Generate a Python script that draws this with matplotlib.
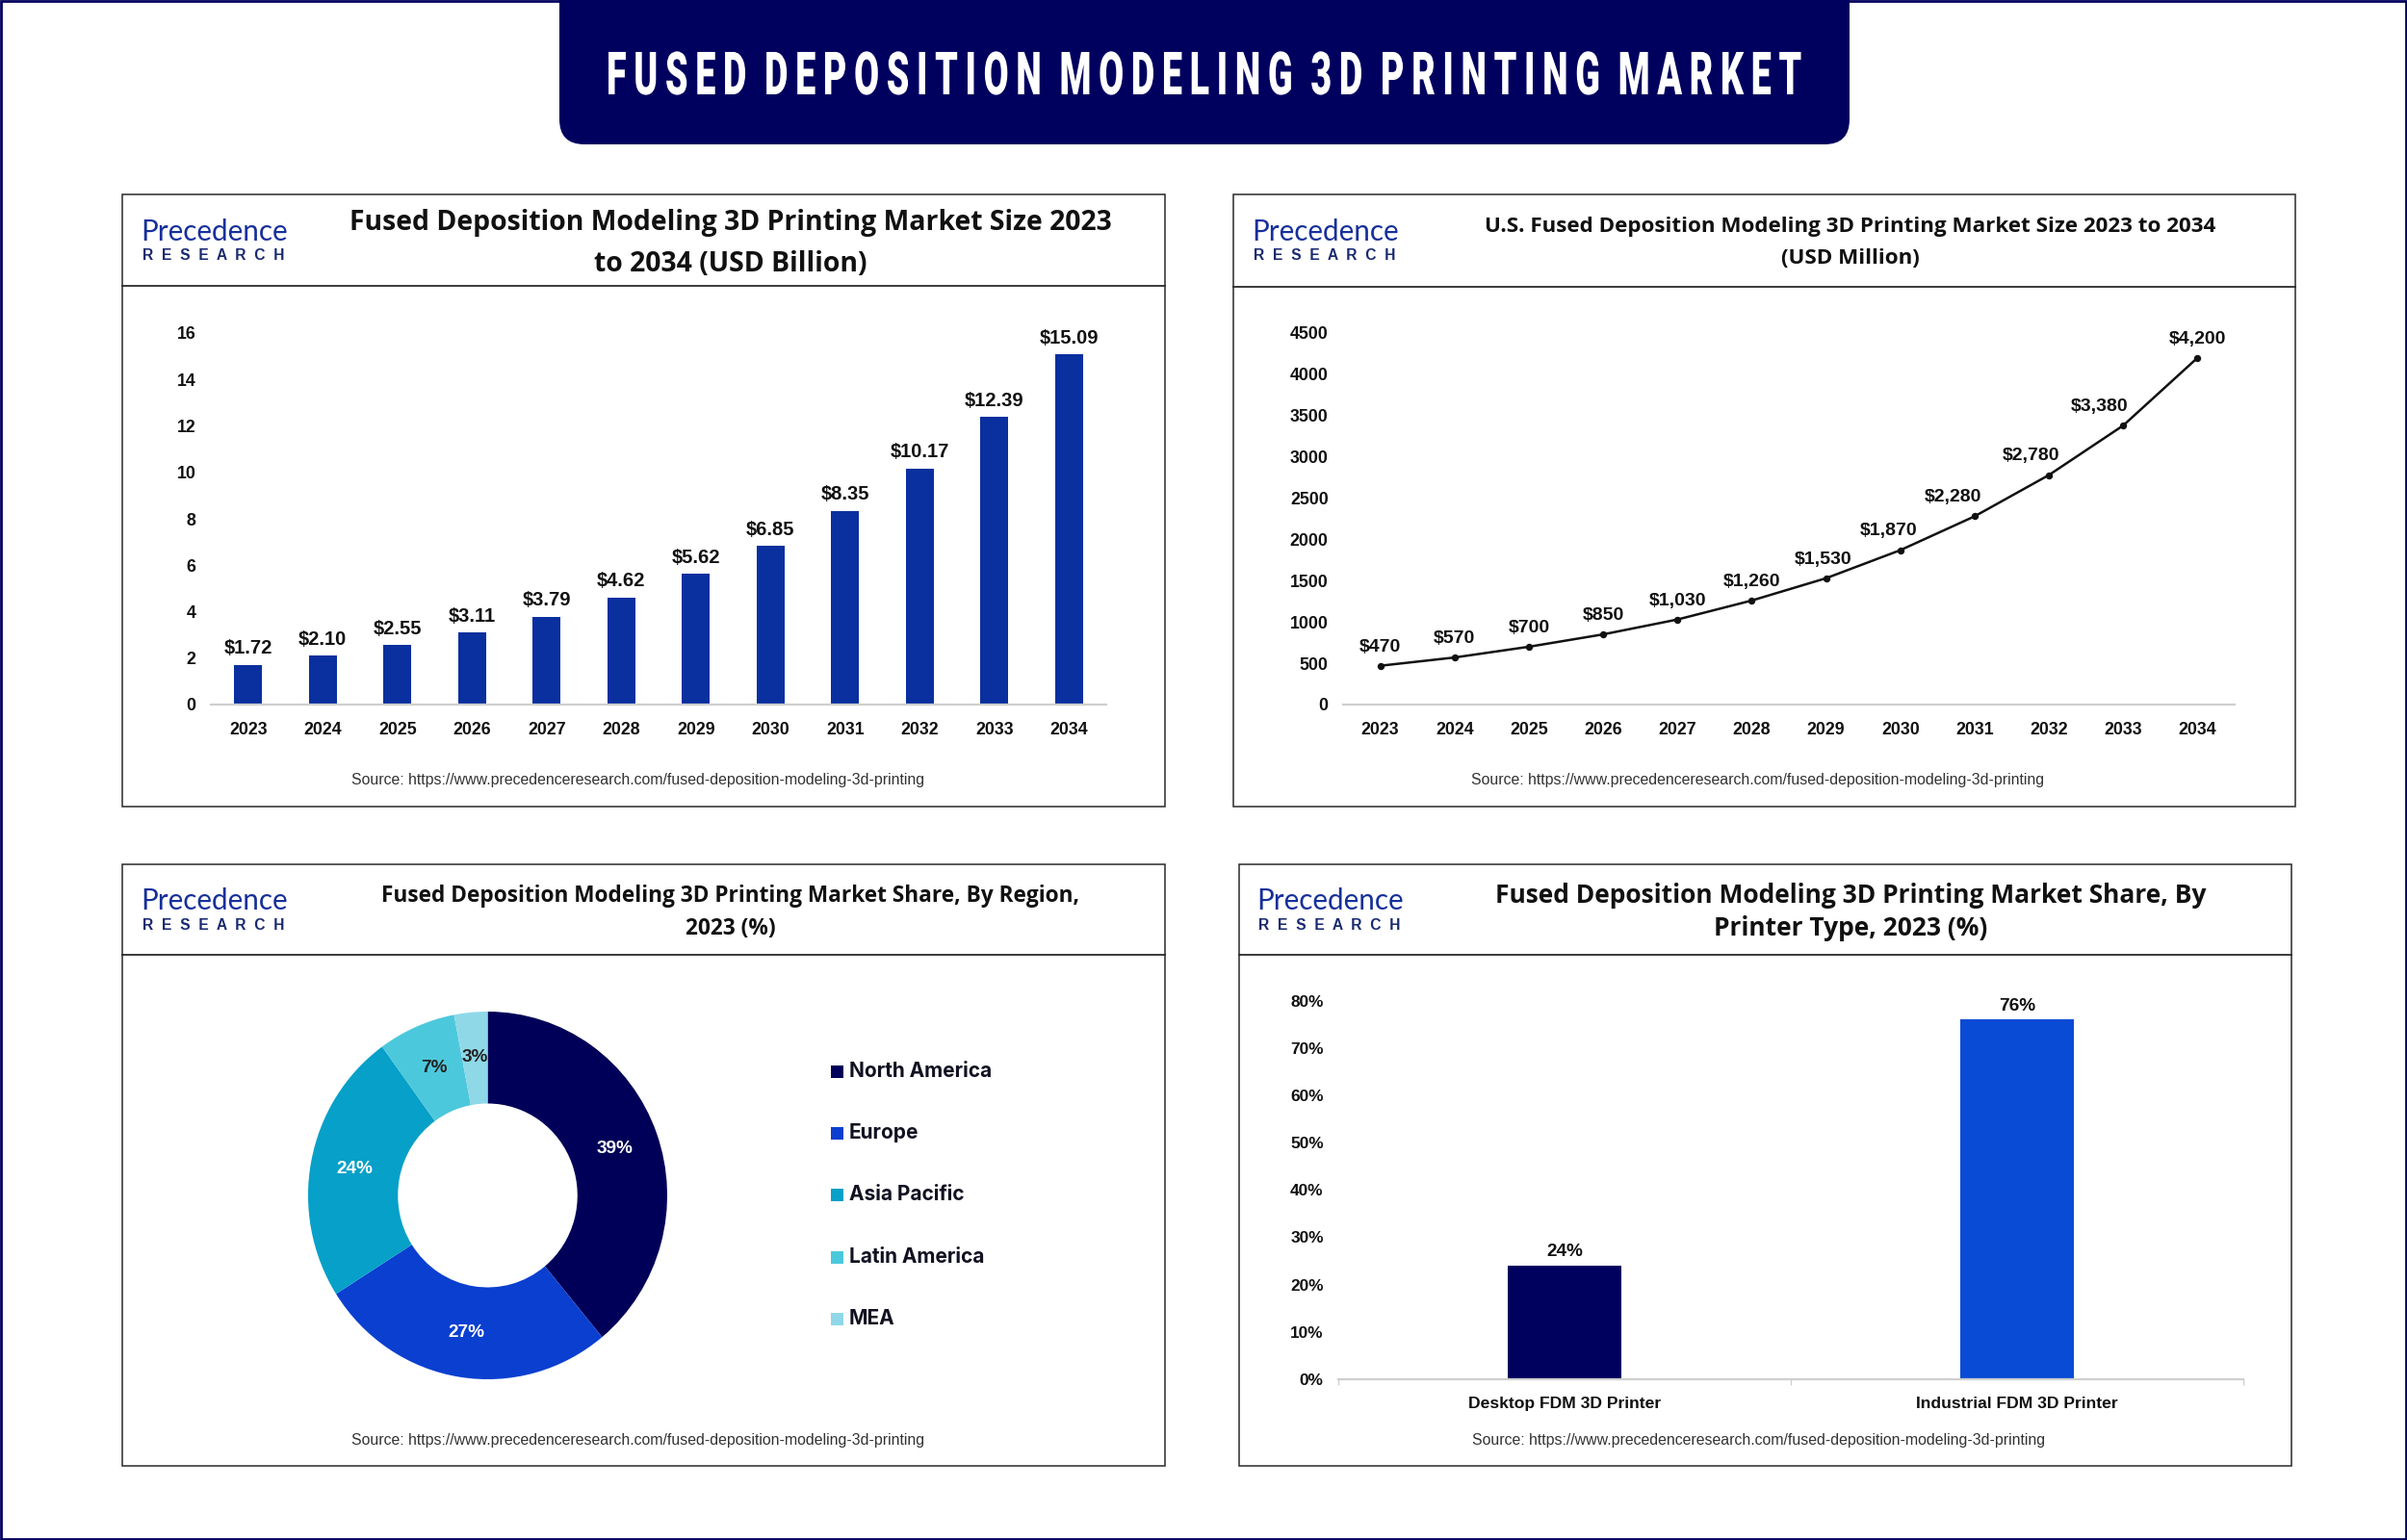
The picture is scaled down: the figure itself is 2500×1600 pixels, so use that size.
import matplotlib
matplotlib.use("Agg")
import matplotlib.pyplot as plt
from matplotlib.patches import Rectangle, FancyBboxPatch
from matplotlib.patheffects import AbstractPathEffect
from matplotlib.transforms import Affine2D
from matplotlib.ticker import PercentFormatter, NullFormatter, FixedLocator

W, H = 2500, 1600
NAVY = "#00005e"

main_title = "FUSED DEPOSITION MODELING 3D PRINTING MARKET"
years = ["2023", "2024", "2025", "2026", "2027", "2028", "2029", "2030", "2031", "2032", "2033", "2034"]
market_size = [1.72, 2.10, 2.55, 3.11, 3.79, 4.62, 5.62, 6.85, 8.35, 10.17, 12.39, 15.09]
us_market = [470, 570, 700, 850, 1030, 1260, 1530, 1870, 2280, 2780, 3380, 4200]
regions = ["North America", "Europe", "Asia Pacific", "Latin America", "MEA"]
region_share = [39, 27, 24, 7, 3]
region_colors = ["#000058", "#0a3fd0", "#06a0c8", "#4cc8dc", "#8fd8e8"]
printer_types = ["Desktop FDM 3D Printer", "Industrial FDM 3D Printer"]
printer_share = [24, 76]
printer_colors = ["#00005e", "#0a4bd6"]
source = "Source: https://www.precedenceresearch.com/fused-deposition-modeling-3d-printing"
us_label_shift = [0, 0, 0, 0, 0, 0, -2, -9, -16, -13, -18, 0]

ARIAL = "Liberation Sans"
fig = plt.figure(figsize=(25, 16), dpi=100, facecolor="white")
bg = fig.add_axes([0, 0, 1, 1], zorder=0)
bg.set_xlim(0, W)
bg.set_ylim(H, 0)
bg.axis("off")
renderer = fig.canvas.get_renderer()


class Squeeze(AbstractPathEffect):
    """Narrow a real text artist horizontally about a pixel column."""

    def __init__(self, sx, cx):
        super().__init__()
        self.sx, self.cx = sx, cx

    def draw_path(self, rend, gc, tpath, affine, rgbFace=None):
        t = affine + Affine2D().translate(-self.cx, 0).scale(self.sx, 1).translate(self.cx, 0)
        rend.draw_path(gc, tpath, t, rgbFace)


def axes_px(l, t, r, b, **kw):
    return fig.add_axes([l / W, 1 - b / H, (r - l) / W, (b - t) / H], facecolor="none", zorder=2, **kw)


def fit_size(s, width, size=20, **kw):
    t = bg.text(0, 0, s, fontsize=size, **kw)
    w = t.get_window_extent(renderer).width
    t.remove()
    return size * width / w


def fit_text(x, y, s, width, **kw):
    return bg.text(x, y, s, ha="center", va="center", fontsize=fit_size(s, width, **kw), **kw)


def panel(l, t, r, b, head):
    bg.add_patch(Rectangle((l, t), r - l, b - t, fc="white", ec="#2a2a2a", lw=1.1, zorder=1))
    bg.plot([l, r], [head, head], color="#2a2a2a", lw=1.3, zorder=2)


def logo(x, y):
    fit_text(x + 76, y + 15, "Precedence", 153, family="Lato", color="#16309a", zorder=3)
    fit_text(x + 75, y + 40, "R  E  S  E  A  R  C  H", 148, family=ARIAL, weight="bold", color="#1a2a70", zorder=3)


# page frame and banner
bg.add_patch(Rectangle((1, 1), W - 2, H - 2, fc="white", ec=NAVY, lw=2.0, zorder=0))
bg.add_patch(FancyBboxPatch((581, -60), 1340, 210, boxstyle="round,pad=0,rounding_size=26", fc=NAVY, ec="none", zorder=1))
spaced = "\u2009".join(main_title).replace("\u2009 \u2009", "  ")
mt = bg.text(1250, 81, spaced, ha="center", va="center", color="white", fontsize=44.6, weight="black",
             family=["Roboto", "Liberation Sans"], zorder=3)
mt.set_path_effects([Squeeze(1240 / mt.get_window_extent(renderer).width, 1250)])

panel(127, 202, 1210, 838, 297)
panel(1281, 202, 2384, 838, 298)
panel(127, 898, 1210, 1523, 992)
panel(1287, 898, 2380, 1523, 992)
logo(147, 226)
logo(1301, 226)
logo(147, 921)
logo(1306, 921)

titles = [
    (759, 231, 275, "Fused Deposition Modeling 3D Printing Market Size 2023", "to 2034 (USD Billion)", 795),
    (1922, 236, 269, "U.S. Fused Deposition Modeling 3D Printing Market Size 2023 to 2034", "(USD Million)", 760),
    (759, 931, 965, "Fused Deposition Modeling 3D Printing Market Share, By Region,", "2023 (%)", 727),
    (1922, 931, 965, "Fused Deposition Modeling 3D Printing Market Share, By", "Printer Type, 2023 (%)", 740),
]
for x, y1, y2, s1, s2, w in titles:
    size = fit_size(s1, w, family="Open Sans", weight="bold")
    for y, s in [(y1, s1), (y2, s2)]:
        bg.text(x, y, s, ha="center", va="center", fontsize=size, family="Open Sans", weight="bold",
                color="#111111", zorder=3)
for x, y in [(663, 810), (1826, 810), (663, 1497), (1827, 1497)]:
    fit_text(x, y, source, 591, family=ARIAL, color="#333333", zorder=3)


def style(ax, size=12.8):
    for s in ["top", "left", "right"]:
        ax.spines[s].set_visible(False)
    ax.spines["bottom"].set_color("#cfcfcf")
    ax.spines["bottom"].set_linewidth(1.6)
    ax.tick_params(axis="both", length=0, labelsize=size, labelcolor="#111111")
    ax.tick_params(axis="x", pad=13)
    ax.tick_params(axis="y", pad=11)
    for t in ax.get_xticklabels() + ax.get_yticklabels():
        t.set_fontweight("bold")
        t.set_family(ARIAL)


# Panel 1: market size bars
ax1 = axes_px(219, 346, 1149, 732)
ax1.bar(years, market_size, width=0.37, color="#0a2f9e")
ax1.set_xlim(-0.5, 11.5)
ax1.set_ylim(0, 16)
ax1.set_yticks(range(0, 17, 2))
style(ax1)
for i, v in enumerate(market_size):
    ax1.annotate(f"${v:.2f}", (i, v), xytext=(0, 5.2), textcoords="offset points", ha="center", va="bottom",
                 fontsize=14.5, weight="bold", family=ARIAL, color="#111111")

# Panel 2: U.S. line
ax2 = axes_px(1395, 346, 2321, 732)
ax2.plot(years, us_market, color="#111111", lw=1.8, marker="o", ms=4.3)
ax2.set_xlim(-0.5, 11.5)
ax2.set_ylim(0, 4500)
ax2.set_yticks(range(0, 4501, 500))
style(ax2)
for i, v in enumerate(us_market):
    ax2.annotate(f"${v:,}", (i, v), xytext=(us_label_shift[i], 8), textcoords="offset points", ha="center",
                 va="bottom", fontsize=14, weight="bold", family=ARIAL, color="#111111")

# Panel 3: donut
ax3 = axes_px(320, 1051, 693, 1433)
wedges, _, pcts = ax3.pie(region_share, colors=region_colors, startangle=90, counterclock=False, radius=1,
                          autopct="%.0f%%", pctdistance=0.755, wedgeprops=dict(width=0.5))
ax3.set_aspect("auto")
ax3.set_xlim(-1, 1)
ax3.set_ylim(-1, 1)
for p, c in zip(pcts, ["white", "white", "white", "#222222", "#222222"]):
    p.set(color=c, fontsize=13.7, weight="bold", family=ARIAL)
for name, col, y in zip(regions, region_colors, [1113, 1177, 1241, 1306, 1370]):
    bg.add_patch(Rectangle((863, y - 6.5), 13, 13, fc=col, ec="none", zorder=3))
    bg.text(882, y, name, ha="left", va="center", fontsize=15, weight="bold", family="Inter", color="#111122", zorder=3)

# Panel 4: printer type bars
ax4 = axes_px(1390, 1039.5, 2330, 1433)
ax4.bar(printer_types, printer_share, width=0.25, color=printer_colors)
ax4.set_xlim(-0.5, 1.5)
ax4.set_ylim(0, 80)
ax4.set_yticks(range(0, 81, 10))
ax4.yaxis.set_major_formatter(PercentFormatter(100, decimals=0))
style(ax4, 12.4)
ax4.xaxis.set_minor_locator(FixedLocator([-0.5, 0.5, 1.5]))
ax4.xaxis.set_minor_formatter(NullFormatter())
ax4.tick_params(axis="x", which="minor", length=4, color="#cfcfcf", width=1)
ax4.tick_params(axis="x", labelsize=12.6)
for i, v in enumerate(printer_share):
    ax4.annotate(f"{v}%", (i, v), xytext=(0, 4), textcoords="offset points", ha="center", va="bottom",
                 fontsize=13.7, weight="bold", family=ARIAL, color="#111111")

fig.savefig("out.png", dpi=100)
